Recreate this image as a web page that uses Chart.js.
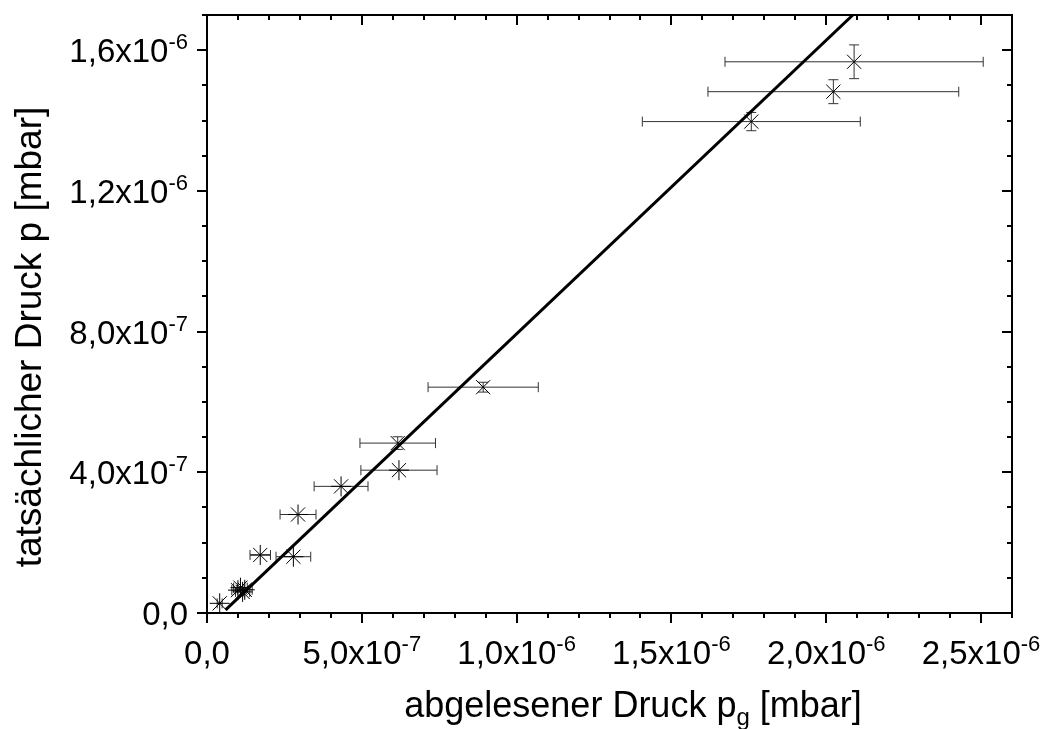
<!DOCTYPE html>
<html>
<head>
<meta charset="utf-8">
<script src="https://cdn.jsdelivr.net/npm/chart.js@4.4.0/dist/chart.umd.min.js"></script>
<style>
  html, body { margin: 0; padding: 0; background: #fff; }
  canvas { display: block; }
</style>
</head>
<body>
<canvas id="pressureChart" width="1045" height="729"></canvas>
<script>
// X-Marker (Messpunkte mit sichtbarem y-Fehler)
const xCross = [2.090e-6, 2.023e-6, 1.758e-6, 0.892e-6, 0.616e-6];
const yCross = [1.567e-6, 1.482e-6, 1.397e-6, 0.642e-6, 0.483e-6];
const xCrossErr = [0.417e-6, 0.405e-6, 0.352e-6, 0.178e-6, 0.122e-6];
const yCrossErr = [0.048e-6, 0.034e-6, 0.026e-6, 0.014e-6, 0.018e-6];

// Sternchen-Marker
const xStar = [0.620e-6, 0.433e-6, 0.294e-6, 0.279e-6, 0.172e-6, 0.100e-6, 0.108e-6, 0.115e-6, 0.122e-6, 0.041e-6];
const yStar = [0.406e-6, 0.360e-6, 0.280e-6, 0.160e-6, 0.165e-6, 0.065e-6, 0.072e-6, 0.060e-6, 0.066e-6, 0.0275e-6];
const xStarErr = [0.123e-6, 0.087e-6, 0.058e-6, 0.056e-6, 0.033e-6, 0.020e-6, 0.022e-6, 0.023e-6, 0.024e-6, 0.008e-6];
const yStarErr = [0, 0, 0, 0, 0, 0, 0, 0, 0, 0];

// Ausgleichsgerade (Endpunkte)
const xFit = [0.06e-6, 2.086e-6];
const yFit = [0.009e-6, 1.700e-6];

// Achsen
const xMin = 0, xMax = 2.6e-6, xMinorStep = 1e-7;
const yMin = 0, yMax = 1.7e-6, yMinorStep = 1e-7;
const xTickVals = [0, 5e-7, 1e-6, 1.5e-6, 2e-6, 2.5e-6];
const xTickMant = ['0,0', '5,0', '1,0', '1,5', '2,0', '2,5'];
const xTickExp = ['', '-7', '-6', '-6', '-6', '-6'];
const yTickVals = [0, 4e-7, 8e-7, 1.2e-6, 1.6e-6];
const yTickMant = ['0,0', '4,0', '8,0', '1,2', '1,6'];
const yTickExp = ['', '-7', '-7', '-6', '-6'];

const FONT = '"Liberation Sans", Arial, sans-serif';

const toPts = (xs, ys) => xs.map((x, i) => ({ x: x, y: ys[i] }));

function drawSupLabel(ctx, base, sup, x, y, align) {
    ctx.font = `33px ${FONT}`;
    const wb = ctx.measureText(sup ? base + 'x10' : base).width;
    ctx.font = `22px ${FONT}`;
    const ws = sup ? ctx.measureText(sup).width : 0;
    let left = x;
    if (align === 'center') left = x - (wb + ws) / 2;
    if (align === 'right') left = x - (wb + ws);
    ctx.textAlign = 'left';
    ctx.textBaseline = 'alphabetic';
    ctx.font = `33px ${FONT}`;
    ctx.fillText(sup ? base + 'x10' : base, left, y);
    if (sup) {
        ctx.font = `22px ${FONT}`;
        ctx.fillText(sup, left + wb, y - 13);
    }
}

const errorBars = {
    id: 'errorBars',
    beforeDatasetsDraw(chart) {
        const { ctx, chartArea: a, scales: { x, y } } = chart;
        const sets = [
            [xCross, yCross, xCrossErr, yCrossErr],
            [xStar, yStar, xStarErr, yStarErr]
        ];
        ctx.save();
        ctx.beginPath();
        ctx.rect(a.left, a.top, a.right - a.left, a.bottom - a.top);
        ctx.clip();
        ctx.strokeStyle = '#333';
        ctx.lineWidth = 1;
        const cap = 5;
        sets.forEach(([xs, ys, xe, ye]) => {
            xs.forEach((xv, i) => {
                const px = x.getPixelForValue(xv), py = y.getPixelForValue(ys[i]);
                ctx.beginPath();
                if (xe[i] > 0) {
                    const l = x.getPixelForValue(xv - xe[i]), r = x.getPixelForValue(xv + xe[i]);
                    ctx.moveTo(l, py); ctx.lineTo(r, py);
                    ctx.moveTo(l, py - cap); ctx.lineTo(l, py + cap);
                    ctx.moveTo(r, py - cap); ctx.lineTo(r, py + cap);
                }
                if (ye[i] > 0) {
                    const t = y.getPixelForValue(ys[i] + ye[i]), b = y.getPixelForValue(ys[i] - ye[i]);
                    ctx.moveTo(px, t); ctx.lineTo(px, b);
                    ctx.moveTo(px - cap, t); ctx.lineTo(px + cap, t);
                    ctx.moveTo(px - cap, b); ctx.lineTo(px + cap, b);
                }
                ctx.stroke();
            });
        });
        ctx.restore();
    }
};

const frameAxes = {
    id: 'frameAxes',
    afterDraw(chart) {
        const { ctx, chartArea: a, scales: { x, y } } = chart;
        ctx.save();
        ctx.strokeStyle = '#000';
        ctx.fillStyle = '#000';
        ctx.lineWidth = 2;
        ctx.strokeRect(a.left, a.top, a.right - a.left, a.bottom - a.top);

        const major = 10, minor = 5;
        ctx.beginPath();
        for (let v = xMin; v <= xMax + 1e-12; v += xMinorStep) {
            const px = Math.round(x.getPixelForValue(v));
            const isMajor = xTickVals.some(t => Math.abs(t - v) < 1e-12);
            const len = isMajor ? major : minor;
            ctx.moveTo(px, a.bottom); ctx.lineTo(px, a.bottom + len);
            ctx.moveTo(px, a.top); ctx.lineTo(px, a.top + len);
        }
        for (let v = yMin; v <= yMax + 1e-12; v += yMinorStep) {
            const py = Math.round(y.getPixelForValue(v));
            const isMajor = yTickVals.some(t => Math.abs(t - v) < 1e-12);
            const len = isMajor ? major : minor;
            ctx.moveTo(a.left, py); ctx.lineTo(a.left - len, py);
            ctx.moveTo(a.right, py); ctx.lineTo(a.right - len, py);
        }
        ctx.stroke();

        xTickVals.forEach((v, i) => drawSupLabel(ctx, xTickMant[i], xTickExp[i], x.getPixelForValue(v), 664, 'center'));
        yTickVals.forEach((v, i) => drawSupLabel(ctx, yTickMant[i], yTickExp[i], 188, y.getPixelForValue(v) + 12, 'right'));

        // x-Achsentitel mit Index g
        ctx.textAlign = 'left';
        ctx.textBaseline = 'alphabetic';
        ctx.font = `36px ${FONT}`;
        const t1 = 'abgelesener Druck p', t2 = ' [mbar]';
        const w1 = ctx.measureText(t1).width;
        ctx.font = `24px ${FONT}`;
        const wg = ctx.measureText('g').width;
        ctx.font = `36px ${FONT}`;
        const w2 = ctx.measureText(t2).width;
        let sx = 633 - (w1 + wg + w2) / 2;
        ctx.fillText(t1, sx, 717);
        ctx.font = `24px ${FONT}`;
        ctx.fillText('g', sx + w1, 725);
        ctx.font = `36px ${FONT}`;
        ctx.fillText(t2, sx + w1 + wg, 717);

        // y-Achsentitel
        ctx.font = `37px ${FONT}`;
        ctx.translate(41, 337);
        ctx.rotate(-Math.PI / 2);
        ctx.textAlign = 'center';
        ctx.fillText('tatsächlicher Druck p [mbar]', 0, 0);
        ctx.restore();
    }
};

new Chart(document.getElementById('pressureChart'), {
    type: 'scatter',
    data: {
        datasets: [
            {
                type: 'line',
                data: toPts(xFit, yFit),
                borderColor: '#000',
                borderWidth: 3,
                pointRadius: 0,
                fill: false
            },
            {
                data: toPts(xCross, yCross),
                pointStyle: 'crossRot',
                pointRadius: 10,
                borderColor: '#000',
                borderWidth: 1
            },
            {
                data: toPts(xStar, yStar),
                pointStyle: 'star',
                pointRadius: 10,
                borderColor: '#000',
                borderWidth: 1
            }
        ]
    },
    options: {
        responsive: false,
        animation: false,
        layout: { padding: { left: 207, right: 33, top: 15, bottom: 116 } },
        scales: {
            x: { type: 'linear', display: false, min: xMin, max: xMax },
            y: { type: 'linear', display: false, min: yMin, max: yMax }
        },
        plugins: { legend: { display: false }, tooltip: { enabled: false } }
    },
    plugins: [errorBars, frameAxes]
});
</script>
</body>
</html>
